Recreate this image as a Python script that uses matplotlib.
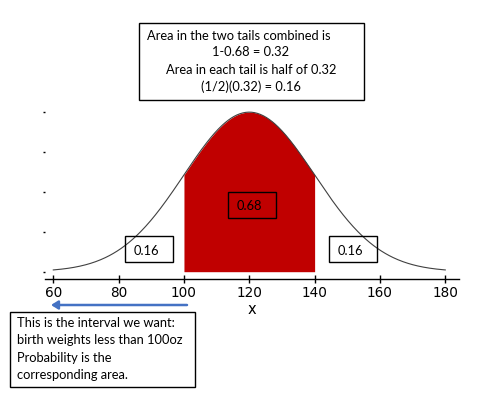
import numpy as np
import matplotlib
matplotlib.use("Agg")
import matplotlib.pyplot as plt
from matplotlib.patches import Rectangle

# ---- data ----
mean = 120
sd = 20
x_range = [60, 180]
shade_bounds = [100, 140]
x_ticks = [60, 80, 100, 120, 140, 160, 180]
y_ticks = [0, 0.005, 0.01, 0.015, 0.02]
center_label = "0.68"
tail_label = "0.16"
top_lines = ["Area in the two tails combined is",
             "1-0.68 = 0.32",
             "Area in each tail is half of 0.32",
             "(1/2)(0.32) = 0.16"]
bottom_lines = ["This is the interval we want:",
                "birth weights less than 100oz",
                "Probability is the",
                "corresponding area."]

W, H = 489, 398
fig = plt.figure(figsize=(W / 100, H / 100), dpi=100)

def fx(px):
    return px / W

def fy(py):
    return 1 - py / H

ax = fig.add_axes([fx(45), fy(279.3), (459 - 45) / W, (279.3 - 107.7) / H])

def pdf(x):
    return np.exp(-0.5 * ((x - mean) / sd) ** 2) / (sd * np.sqrt(2 * np.pi))

xs = np.linspace(x_range[0], x_range[1], 400)
ax.plot(xs, pdf(xs), color="#404040", lw=0.8)
xf = np.linspace(shade_bounds[0], shade_bounds[1], 200)
ax.fill_between(xf, 0, pdf(xf), color="#C00000", lw=0)

ax.set_xlim(57.46, 184.2)
ax.set_ylim(-0.00095, 0.0205)
ax.set_xticks(x_ticks)
ax.set_xticklabels([str(t) for t in x_ticks], fontsize=9.8, family="DejaVu Sans")
ax.set_yticks(y_ticks)
ax.set_yticklabels([])
ax.tick_params(axis="y", length=1.2, width=1, direction="out", pad=0)
ax.tick_params(axis="x", length=6, width=1, direction="inout", pad=2)
for s in ["top", "right", "left"]:
    ax.spines[s].set_visible(False)
ax.spines["bottom"].set_linewidth(1)
ax.set_xlabel("x", fontsize=10.5, labelpad=1)

tf = dict(family="Lato", fontsize=9.3, color="black")

def box(x0, y0, x1, y1):
    fig.patches.append(Rectangle((fx(x0), fy(y1)), fx(x1) - fx(x0), fy(y0) - fy(y1),
                                 transform=fig.transFigure, fill=False,
                                 edgecolor="black", lw=1, zorder=5))

# top box
box(139, 23, 364, 100)
top_pos = [(239, 35.7), (250.5, 52.5), (251, 69.7), (250.5, 86.7)]
for (px, py), t in zip(top_pos, top_lines):
    fig.text(fx(px), fy(py), t, ha="center", va="center", **tf)

# center box
box(228, 192, 276, 218)
fig.text(fx(249), fy(206), center_label, ha="center", va="center", **tf)
# tail boxes
box(125, 236, 173, 262)
fig.text(fx(146), fy(251), tail_label, ha="center", va="center", **tf)
box(329, 236, 377, 262)
fig.text(fx(350), fy(251), tail_label, ha="center", va="center", **tf)

# bottom box
box(10, 312, 195, 387)
for i, t in enumerate(bottom_lines):
    fig.text(fx(17), fy(323 + i * 17.3), t, ha="left", va="center", **tf)

# blue arrow
fig.add_artist(matplotlib.patches.FancyArrowPatch(
    (fx(187), fy(305)), (fx(51), fy(305)), transform=fig.transFigure,
    arrowstyle="-|>,head_length=4,head_width=2.5", color="#4472C4", lw=1.8,
    shrinkA=0, shrinkB=0))

fig.savefig("out.png", dpi=100)
